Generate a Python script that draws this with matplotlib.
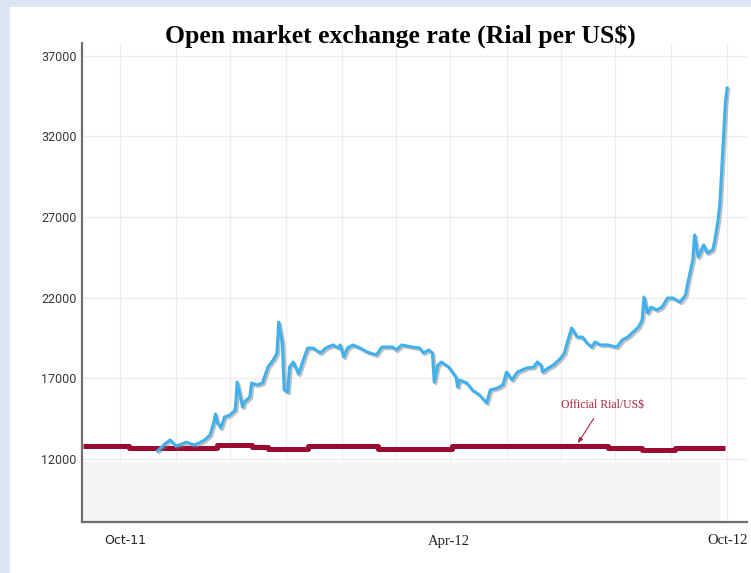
import matplotlib
matplotlib.use("Agg")
import matplotlib.pyplot as plt
from matplotlib.patches import Rectangle
import matplotlib.patheffects as pe

# ---- data (x: days since 1 Oct 2011, y: Rial per US$) ----
open_days = [18, 22, 25, 28, 30, 34, 38, 41, 44, 47, 49, 50, 51, 53, 55, 58, 61, 62, 65, 66,
             69, 70, 73, 76, 79, 82, 84, 85, 87, 88, 90, 91, 93, 96, 98, 101, 104, 108, 111, 115,
             118, 119, 121, 123, 126, 130, 134, 139, 142, 148, 150, 153, 159, 163, 165, 168, 170, 171, 173, 175,
             179, 183, 184, 185, 189, 192, 196, 200, 202, 206, 209, 211, 214, 217, 222, 226, 228, 230, 231, 234,
             237, 241, 243, 245, 247, 250, 253, 255, 258, 260, 263, 267, 272, 275, 278, 281, 284, 286, 287, 289,
             291, 294, 297, 300, 303, 307, 310, 311, 314, 315, 316, 317, 320, 322, 325, 326, 328, 329, 330, 331,
             332, 333]
open_rate = [12500, 12930, 13180, 12810, 12870, 13050, 12870, 12990, 13180, 13490, 14230, 14790, 14290, 13920, 14600, 14730, 15040, 16770, 15220, 15530,
             15840, 16710, 16590, 16710, 17700, 18140, 18570, 20490, 19190, 16280, 16150, 17700, 18010, 17270, 17950, 18880, 18880, 18570, 18880, 19070,
             18880, 19070, 18320, 18880, 19070, 18880, 18630, 18450, 18940, 18940, 18760, 19070, 18940, 18880, 18570, 18760, 18570, 16770, 17830, 18010,
             17700, 17080, 16460, 16900, 16710, 16280, 15970, 15470, 16280, 16400, 16590, 17390, 16900, 17390, 17640, 17700, 18010, 17830, 17390, 17640,
             17830, 18260, 18570, 19380, 20120, 19560, 19560, 19250, 18940, 19250, 19070, 19070, 18940, 19380, 19560, 19870, 20180, 20620, 22040, 21050,
             21420, 21240, 21420, 21980, 21980, 21730, 22170, 22790, 24340, 25890, 25140, 24520, 25270, 24770, 24960, 25450, 26820, 27870, 29920, 31960,
             34070, 35000]

official_days = [-23, 2, 51, 70, 79, 101, 140, 181, 267, 286, 304, 332]
official_rate = [12830, 12700, 12870, 12760, 12640, 12790, 12650, 12790, 12660, 12580, 12700, 12700]

y_ticks = [12000, 17000, 22000, 27000, 32000, 37000]
x_tick_pos = [0, 179, 333]
x_tick_labels = ["Oct-11", "Apr-12", "Oct-12"]
month_grid = [-3, 28, 58, 89, 120, 150, 180, 211, 241, 271, 302, 333]

title = "Open market exchange rate (Rial per US$)"
note = "Official Rial/US$"

# ---- figure ----
fig = plt.figure(figsize=(7.51, 5.73), dpi=100)
fig.patch.set_facecolor("#dce6f2")
fig.add_artist(Rectangle((10 / 751, 0), 741 / 751, 566 / 573, transform=fig.transFigure,
                         facecolor="white", edgecolor="none", zorder=0))

ax = fig.add_axes([82 / 751, 1 - 522 / 573, 665 / 751, 479 / 573])
ax.set_facecolor("none")
ax.set_xlim(-23.8, 344)
ax.set_ylim(8094, 37790)

# faint grid
for g in y_ticks:
    ax.axhline(g, color="#ededed", lw=0.9, zorder=1)
for g in month_grid:
    ax.axvline(g, color="#ededed", lw=0.9, zorder=1)
ax.axhspan(8094, 11814, xmin=0, xmax=0.96, color="#f5f5f5", zorder=1.5, lw=0)

# official rate (step)
ax.step(official_days, official_rate, where="post", color="#9b0a30", lw=3.6,
        solid_capstyle="butt", zorder=3)

# open market
ax.plot(open_days, open_rate, color="#41b1ee", lw=2.2, zorder=4, solid_joinstyle="round",
        path_effects=[pe.SimpleLineShadow(offset=(1.2, -1.2), shadow_color="#777777", alpha=0.45),
                      pe.Normal()])

# annotation
ax.annotate(note, xy=(250.5, 12990), xytext=(264, 15350), ha="center", va="center",
            fontsize=8.5, family="Liberation Serif", color="#a82444",
            arrowprops=dict(arrowstyle="-|>,head_length=0.35,head_width=0.15", color="#a82444",
                            lw=0.8, shrinkA=4, shrinkB=0))

# axes styling
for s in ["top", "right"]:
    ax.spines[s].set_visible(False)
ax.spines["left"].set_color("#6e6e6e")
ax.spines["left"].set_linewidth(1.6)
ax.spines["bottom"].set_color("#6e6e6e")
ax.spines["bottom"].set_linewidth(1.6)

ax.set_yticks(y_ticks)
ax.set_yticklabels([str(v) for v in y_ticks], fontsize=9, family="Roboto", color="#383838")
ax.tick_params(axis="y", length=0, pad=4)
ax.set_xticks(x_tick_pos)
ax.set_xticklabels(x_tick_labels, fontsize=10)
ax.tick_params(axis="x", length=0, pad=9)
fams = ["DejaVu Sans", "Liberation Serif", "Liberation Serif"]
sizes = [9, 10.5, 10.5]
for lab, f, s in zip(ax.get_xticklabels(), fams, sizes):
    lab.set_family(f)
    lab.set_fontsize(s)
    lab.set_color("#222222")

fig.text(400 / 751, 1 - 36 / 573, title, ha="center", va="center", fontsize=18.5,
         family="Liberation Serif", fontweight="bold", color="black")

fig.savefig("out.png", dpi=100, facecolor=fig.get_facecolor())
